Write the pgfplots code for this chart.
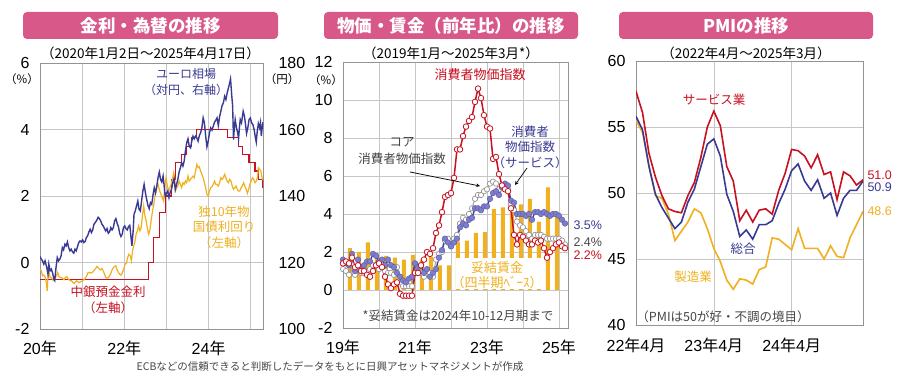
\documentclass[border=0pt]{standalone}
\usepackage{fontspec}
\setmainfont{Noto Sans CJK JP}
\newfontfamily\jp{Noto Sans CJK JP}
\newfontfamily\lib{Liberation Sans}
\usepackage{pgfplots}
\pgfplotsset{compat=1.18}
\definecolor{cred}{RGB}{200,16,32}
\definecolor{cblue}{RGB}{58,58,148}
\definecolor{cblueF}{RGB}{125,125,205}
\definecolor{corange}{RGB}{240,176,32}
\definecolor{cgray}{RGB}{150,150,150}
\definecolor{cdark}{RGB}{70,70,70}
\definecolor{cpink}{RGB}{216,88,138}
\pgfplotsset{
  panel/.style={scale only axis, grid=major,
    major grid style={gray!45, line width=0.6pt},
    axis line style={gray!85, line width=0.9pt},
    tick style={draw=none},
    ticklabel style={font=\lib\fontsize{16}{16}\selectfont, text=black},
    /pgf/number format/assume math mode=true},
}
\newcommand{\fs}[1]{\fontsize{#1}{#1}\selectfont}
\newcommand{\fss}[2]{\fontsize{#1}{#2}\selectfont}
\begin{document}
\begin{tikzpicture}
\path[use as bounding box] (0pt,0pt) rectangle (900pt,380pt);
\fill[white] (0pt,0pt) rectangle (900pt,380pt);

% ================= Panel 1 =================
\begin{axis}[panel, at={(40pt,51pt)}, width=223pt, height=266pt,
  xmin=2020, xmax=2025.29, ymin=-2, ymax=6,
  xtick={2020,2021,2022,2023,2024,2025},
  xticklabels={{20{\jp 年}},,{22{\jp 年}},,{24{\jp 年}},},
  ytick={-2,0,2,4,6},
  yticklabel style={xshift=-7pt},
  xticklabel style={yshift=-8pt}]
% ECB deposit rate
\addplot[const plot, cred, line width=1.2pt] coordinates {
(2020.00,-0.5) (2022.57,0) (2022.70,0.75) (2022.84,1.5) (2022.97,2.0)
(2023.11,2.5) (2023.22,3.0) (2023.36,3.25) (2023.47,3.5) (2023.59,3.75)
(2023.72,4.0) (2024.45,3.75) (2024.71,3.5) (2024.81,3.25) (2024.96,3.0)
(2025.10,2.75) (2025.19,2.5) (2025.29,2.25) };
% German 10y yield
\addplot[corange, line width=1.2pt] coordinates {
(2020.00,-0.20) (2020.03,-0.25) (2020.06,-0.40) (2020.09,-0.38) (2020.12,-0.43)
(2020.15,-0.60) (2020.17,-0.85) (2020.19,-0.40) (2020.21,-0.25) (2020.24,-0.45)
(2020.27,-0.45) (2020.30,-0.52) (2020.33,-0.55) (2020.36,-0.45) (2020.39,-0.40)
(2020.42,-0.30) (2020.45,-0.42) (2020.48,-0.45) (2020.51,-0.45) (2020.54,-0.48)
(2020.57,-0.52) (2020.60,-0.45) (2020.63,-0.42) (2020.66,-0.48) (2020.69,-0.52)
(2020.72,-0.55) (2020.75,-0.55) (2020.78,-0.60) (2020.81,-0.63) (2020.84,-0.58)
(2020.87,-0.55) (2020.90,-0.58) (2020.93,-0.60) (2020.96,-0.58) (2020.99,-0.57)
(2021.02,-0.53) (2021.05,-0.52) (2021.08,-0.45) (2021.11,-0.40) (2021.14,-0.30)
(2021.17,-0.30) (2021.20,-0.32) (2021.23,-0.30) (2021.26,-0.28) (2021.29,-0.22)
(2021.32,-0.18) (2021.35,-0.12) (2021.38,-0.15) (2021.41,-0.20) (2021.44,-0.22)
(2021.47,-0.18) (2021.50,-0.25) (2021.53,-0.35) (2021.56,-0.45) (2021.59,-0.47)
(2021.62,-0.45) (2021.65,-0.40) (2021.68,-0.33) (2021.71,-0.22) (2021.74,-0.15)
(2021.77,-0.12) (2021.80,-0.10) (2021.83,-0.22) (2021.86,-0.30) (2021.89,-0.35)
(2021.92,-0.38) (2021.95,-0.32) (2021.99,-0.18) (2022.02,-0.05) (2022.05,-0.02)
(2022.08,0.15) (2022.11,0.25) (2022.14,0.20) (2022.17,0.05) (2022.19,0.30)
(2022.22,0.50) (2022.25,0.60) (2022.28,0.85) (2022.31,0.95) (2022.34,1.10)
(2022.37,0.95) (2022.40,1.05) (2022.43,1.40) (2022.46,1.70) (2022.49,1.40)
(2022.52,1.25) (2022.55,1.00) (2022.58,0.85) (2022.61,1.00) (2022.64,1.30)
(2022.67,1.55) (2022.70,1.75) (2022.73,2.05) (2022.76,2.15) (2022.79,2.40)
(2022.81,2.30) (2022.84,2.15) (2022.87,2.05) (2022.90,1.95) (2022.93,1.85)
(2022.96,2.25) (2022.99,2.55) (2023.02,2.30) (2023.05,2.15) (2023.08,2.25)
(2023.11,2.35) (2023.14,2.50) (2023.17,2.70) (2023.19,2.60) (2023.21,2.15)
(2023.24,2.25) (2023.27,2.30) (2023.30,2.45) (2023.33,2.35) (2023.36,2.25)
(2023.39,2.40) (2023.42,2.35) (2023.45,2.45) (2023.48,2.40) (2023.51,2.60)
(2023.54,2.45) (2023.57,2.50) (2023.60,2.55) (2023.63,2.60) (2023.66,2.55)
(2023.69,2.75) (2023.72,2.95) (2023.75,2.85) (2023.78,2.88) (2023.81,2.75)
(2023.84,2.65) (2023.87,2.55) (2023.90,2.40) (2023.93,2.25) (2023.96,2.05)
(2023.99,2.00) (2024.02,2.15) (2024.05,2.25) (2024.08,2.28) (2024.11,2.35)
(2024.14,2.45) (2024.17,2.35) (2024.20,2.35) (2024.23,2.30) (2024.26,2.40)
(2024.29,2.55) (2024.32,2.50) (2024.35,2.55) (2024.38,2.65) (2024.41,2.55)
(2024.44,2.45) (2024.47,2.40) (2024.50,2.50) (2024.53,2.45) (2024.56,2.30)
(2024.59,2.20) (2024.62,2.25) (2024.65,2.30) (2024.68,2.20) (2024.71,2.15)
(2024.74,2.15) (2024.77,2.25) (2024.80,2.30) (2024.83,2.40) (2024.86,2.30)
(2024.89,2.20) (2024.92,2.08) (2024.95,2.20) (2024.98,2.35) (2025.01,2.45)
(2025.04,2.55) (2025.07,2.50) (2025.10,2.40) (2025.13,2.45) (2025.16,2.55)
(2025.18,2.85) (2025.21,2.80) (2025.24,2.75) (2025.26,2.60) (2025.28,2.50)
(2025.29,2.48) };
\end{axis}
\begin{axis}[scale only axis, at={(40pt,51pt)}, width=223pt, height=266pt,
  xmin=2020, xmax=2025.29, ymin=100, ymax=180,
  axis x line=none, axis y line*=right, axis line style={draw=none},
  tick style={draw=none},
  ytick={100,120,140,160,180},
  ticklabel style={font=\lib\fontsize{16}{16}\selectfont},
  /pgf/number format/assume math mode=true,
  yticklabel style={xshift=12pt}]
\addplot[cblue, line width=1.4pt] coordinates {
(2020.00,121.8) (2020.03,121.0) (2020.06,120.5) (2020.09,119.5) (2020.12,120.5)
(2020.16,118.5) (2020.19,116.5) (2020.21,119.5) (2020.24,117.5) (2020.27,118.0)
(2020.30,116.8) (2020.33,115.0) (2020.35,114.6) (2020.38,118.5) (2020.41,121.5)
(2020.44,120.5) (2020.47,121.0) (2020.50,122.0) (2020.53,124.5) (2020.56,123.8)
(2020.59,125.5) (2020.62,125.0) (2020.65,126.2) (2020.68,124.5) (2020.71,123.5)
(2020.74,124.0) (2020.77,123.2) (2020.80,122.8) (2020.83,124.0) (2020.86,123.5)
(2020.89,124.8) (2020.92,126.0) (2020.95,126.5) (2020.98,126.2) (2021.01,126.8)
(2021.04,126.0) (2021.07,126.3) (2021.10,127.5) (2021.13,128.0) (2021.16,129.2)
(2021.19,130.0) (2021.22,129.0) (2021.25,129.8) (2021.28,131.5) (2021.31,132.0)
(2021.35,132.8) (2021.38,133.6) (2021.41,133.2) (2021.44,132.5) (2021.47,131.5)
(2021.50,131.0) (2021.53,130.2) (2021.56,129.5) (2021.59,130.2) (2021.62,128.8)
(2021.65,129.2) (2021.68,130.5) (2021.71,129.8) (2021.74,130.5) (2021.77,132.5)
(2021.80,133.2) (2021.83,131.8) (2021.86,130.8) (2021.89,128.8) (2021.92,127.8)
(2021.95,128.5) (2021.98,130.5) (2022.01,131.0) (2022.04,130.2) (2022.07,129.8)
(2022.10,130.8) (2022.13,131.2) (2022.16,127.5) (2022.18,125.0) (2022.21,129.5)
(2022.23,134.5) (2022.26,135.5) (2022.29,137.0) (2022.32,138.5) (2022.35,136.0)
(2022.38,135.5) (2022.41,138.5) (2022.44,141.5) (2022.47,143.5) (2022.50,141.0)
(2022.53,139.0) (2022.56,137.2) (2022.59,136.2) (2022.62,138.0) (2022.65,137.5)
(2022.68,140.2) (2022.71,142.5) (2022.74,141.0) (2022.77,143.0) (2022.80,145.5)
(2022.83,147.2) (2022.86,145.0) (2022.89,144.2) (2022.92,146.0) (2022.95,142.5)
(2022.97,140.0) (2023.00,140.8) (2023.03,141.5) (2023.06,139.5) (2023.09,141.2)
(2023.12,142.0) (2023.15,144.0) (2023.18,145.2) (2023.21,142.0) (2023.24,143.5)
(2023.27,145.0) (2023.30,147.2) (2023.33,148.5) (2023.36,150.0) (2023.39,149.0)
(2023.42,150.5) (2023.45,153.5) (2023.48,156.0) (2023.51,157.2) (2023.54,155.0)
(2023.57,154.5) (2023.60,156.5) (2023.63,158.0) (2023.66,157.2) (2023.69,158.0)
(2023.72,157.5) (2023.75,156.5) (2023.78,158.2) (2023.81,159.0) (2023.84,160.5)
(2023.87,163.5) (2023.90,162.0) (2023.93,158.0) (2023.96,154.8) (2023.99,156.5)
(2024.02,159.0) (2024.05,160.5) (2024.08,159.8) (2024.11,161.0) (2024.14,162.2)
(2024.17,162.8) (2024.20,163.5) (2024.23,161.2) (2024.26,163.8) (2024.29,165.5)
(2024.32,167.2) (2024.35,168.0) (2024.38,170.0) (2024.41,169.0) (2024.44,171.0)
(2024.47,172.5) (2024.50,174.0) (2024.52,175.2) (2024.55,170.0) (2024.57,167.0)
(2024.59,157.0) (2024.61,160.5) (2024.63,163.0) (2024.66,160.5) (2024.69,159.0)
(2024.71,157.2) (2024.73,160.5) (2024.75,163.0) (2024.78,162.0) (2024.80,163.8)
(2024.82,165.5) (2024.85,164.0) (2024.88,161.0) (2024.90,158.8) (2024.93,160.5)
(2024.96,163.0) (2024.99,163.5) (2025.02,162.0) (2025.05,161.5) (2025.08,160.0)
(2025.11,157.5) (2025.13,156.2) (2025.15,159.0) (2025.18,161.8) (2025.21,160.5)
(2025.23,162.0) (2025.25,158.0) (2025.27,160.5) (2025.29,162.2) };
\end{axis}

% ================= Panel 2 =================
\begin{axis}[panel, at={(343pt,52pt)}, width=225pt, height=266pt,
  xmin=0, xmax=75, ymin=-2, ymax=12,
  xtick={0,12,24,36,48,60,72},
  xticklabels={{19{\jp 年}},,{21{\jp 年}},,{23{\jp 年}},,{25{\jp 年}}},
  ytick={-2,0,2,4,6,8,10,12},
  yticklabel style={xshift=-7pt},
  xticklabel style={yshift=-8pt}]
\addplot[ybar, bar width=4pt, fill=corange, draw=none] coordinates {
(2.3,2.2) (5.3,2.0) (8.3,2.5) (11.3,1.9) (14.3,1.8) (17.3,1.7) (20.3,1.6) (23.3,1.85)
(26.3,1.6) (29.3,1.75) (32.3,1.3) (35.3,1.3) (38.3,2.55) (41.3,2.6) (44.3,3.0) (47.3,3.05)
(50.3,4.25) (53.3,4.35) (56.3,4.7) (59.3,4.5) (62.3,4.8) (65.3,3.6) (68.3,5.4) (71.3,4.1) };
\addplot[cgray, line width=0.9pt, mark=*, mark size=2.7pt,
  mark options={fill=white, draw=cgray, line width=0.7pt}] coordinates {
(0,1.1) (1,1.0) (2,0.8) (3,1.3) (4,0.8) (5,1.1) (6,0.9) (7,0.9) (8,1.0) (9,1.1) (10,1.3) (11,1.3)
(12,1.1) (13,1.2) (14,1.0) (15,0.9) (16,0.9) (17,0.8) (18,1.2) (19,0.4) (20,0.2) (21,0.2) (22,0.2) (23,0.2)
(24,1.4) (25,1.1) (26,0.9) (27,0.7) (28,1.0) (29,0.9) (30,0.7) (31,1.6) (32,1.9) (33,2.0) (34,2.6) (35,2.7)
(36,2.3) (37,2.7) (38,2.9) (39,3.5) (40,3.8) (41,3.7) (42,4.0) (43,4.3) (44,4.8) (45,5.0) (46,5.0) (47,5.2)
(48,5.3) (49,5.6) (50,5.7) (51,5.6) (52,5.3) (53,5.5) (54,5.5) (55,5.3) (56,4.5) (57,4.2) (58,3.6) (59,3.4)
(60,3.3) (61,3.1) (62,2.9) (63,2.7) (64,2.9) (65,2.9) (66,2.9) (67,2.8) (68,2.7) (69,2.7) (70,2.7) (71,2.7)
(72,2.7) (73,2.6) (74,2.4) };
\addplot[cblue, line width=1.3pt, mark=*, mark size=2.8pt,
  mark options={fill=cblueF, draw=cblue!80, line width=0.5pt}] coordinates {
(0,1.6) (1,1.4) (2,1.3) (3,1.9) (4,1.0) (5,1.6) (6,1.2) (7,1.3) (8,1.5) (9,1.5) (10,1.9) (11,1.8)
(12,1.5) (13,1.6) (14,1.3) (15,1.6) (16,1.3) (17,1.2) (18,0.9) (19,0.7) (20,0.5) (21,0.4) (22,0.6) (23,0.7)
(24,1.4) (25,1.2) (26,1.3) (27,0.9) (28,1.1) (29,0.7) (30,0.9) (31,1.1) (32,1.7) (33,2.1) (34,2.7) (35,2.5)
(36,2.3) (37,2.5) (38,2.7) (39,3.3) (40,3.5) (41,3.4) (42,3.7) (43,3.8) (44,4.3) (45,4.3) (46,4.2) (47,4.4)
(48,4.4) (49,4.8) (50,5.1) (51,5.2) (52,5.0) (53,5.4) (54,5.6) (55,5.5) (56,4.7) (57,4.6) (58,4.0) (59,4.0)
(60,4.0) (61,3.9) (62,4.0) (63,3.7) (64,4.1) (65,4.1) (66,4.0) (67,4.1) (68,4.0) (69,3.9) (70,4.0) (71,4.0)
(72,3.9) (73,3.7) (74,3.5) };
\addplot[cred, line width=1.5pt, mark=*, mark size=2.8pt,
  mark options={fill=white, draw=cred, line width=0.8pt}] coordinates {
(0,1.4) (1,1.5) (2,1.4) (3,1.7) (4,1.2) (5,1.3) (6,1.0) (7,1.0) (8,0.8) (9,0.7) (10,1.0) (11,1.3)
(12,1.4) (13,1.2) (14,0.7) (15,0.3) (16,0.1) (17,0.3) (18,0.4) (19,-0.2) (20,-0.3) (21,-0.3) (22,-0.3) (23,-0.3)
(24,0.9) (25,0.9) (26,1.3) (27,1.6) (28,2.0) (29,1.9) (30,2.2) (31,3.0) (32,3.4) (33,4.1) (34,4.9) (35,5.0)
(36,5.1) (37,5.9) (38,7.4) (39,7.4) (40,8.1) (41,8.6) (42,8.9) (43,9.1) (44,9.9) (45,10.6) (46,10.1) (47,9.2)
(48,8.6) (49,8.5) (50,6.9) (51,7.0) (52,6.1) (53,5.5) (54,5.3) (55,5.2) (56,4.3) (57,2.9) (58,2.4) (59,2.9)
(60,2.8) (61,2.6) (62,2.4) (63,2.4) (64,2.6) (65,2.5) (66,2.6) (67,2.2) (68,1.7) (69,2.0) (70,2.2) (71,2.4)
(72,2.5) (73,2.3) (74,2.2) };
\end{axis}

% ================= Panel 3 =================
\begin{axis}[panel, at={(636pt,55pt)}, width=227pt, height=264pt,
  xmin=0, xmax=35, ymin=40, ymax=60,
  xtick={0,12,24},
  xticklabels={{22{\jp 年}4{\jp 月}},{23{\jp 年}4{\jp 月}},{24{\jp 年}4{\jp 月}}},
  ytick={40,45,50,55,60},
  yticklabel style={xshift=-7pt},
  xticklabel style={yshift=-9pt}]
\addplot[corange, line width=1.6pt] coordinates {
(0,55.5) (1,54.6) (2,52.1) (3,49.8) (4,49.6) (5,48.4) (6,46.4) (7,47.1) (8,47.8) (9,48.8) (10,48.5) (11,47.3)
(12,45.8) (13,44.8) (14,43.4) (15,42.7) (16,43.5) (17,43.4) (18,43.1) (19,44.2) (20,44.4) (21,46.6) (22,46.5) (23,46.1)
(24,45.7) (25,47.3) (26,45.8) (27,45.8) (28,45.8) (29,45.0) (30,46.0) (31,45.2) (32,45.1) (33,46.6) (34,47.6) (35,48.6) };
\addplot[cblue, line width=1.6pt] coordinates {
(0,55.8) (1,54.8) (2,52.0) (3,49.9) (4,48.9) (5,48.1) (6,47.3) (7,47.8) (8,49.3) (9,50.3) (10,52.0) (11,53.7)
(12,54.1) (13,52.8) (14,49.9) (15,48.6) (16,46.7) (17,47.2) (18,46.5) (19,47.6) (20,47.6) (21,47.9) (22,49.2) (23,50.3)
(24,51.7) (25,52.2) (26,50.9) (27,50.2) (28,51.0) (29,49.6) (30,50.0) (31,48.3) (32,49.6) (33,50.2) (34,50.2) (35,50.9) };
\addplot[cred, line width=1.6pt] coordinates {
(0,57.7) (1,56.1) (2,53.0) (3,51.2) (4,49.8) (5,48.8) (6,48.6) (7,48.5) (8,49.8) (9,50.8) (10,52.7) (11,55.0)
(12,56.2) (13,55.1) (14,52.0) (15,50.9) (16,47.9) (17,48.7) (18,47.8) (19,48.7) (20,48.8) (21,48.4) (22,50.2) (23,51.5)
(24,53.3) (25,53.2) (26,52.8) (27,51.9) (28,52.9) (29,51.4) (30,51.6) (31,49.5) (32,51.6) (33,51.3) (34,50.6) (35,51.0) };
\end{axis}

% ================= Titles & annotations =================
\fill[cpink, rounded corners=4pt] (23pt,341pt) rectangle (278pt,368pt);
\fill[cpink, rounded corners=4pt] (324pt,341pt) rectangle (578pt,368pt);
\fill[cpink, rounded corners=4pt] (619pt,341pt) rectangle (873pt,368pt);
\node[text=white, font=\bfseries\fs{17.5}] at (150.5pt,354.5pt) {金利・為替の推移};
\node[text=white, font=\bfseries\fs{17.5}] at (451pt,354.5pt) {物価・賃金（前年比）の推移};
\node[text=white, font=\bfseries\fs{17.5}] at (746pt,354.5pt) {PMIの推移};
\node[font=\fs{13.5}] at (150.5pt,327pt) {（2020年1月2日～2025年4月17日）};
\node[font=\fs{13.5}] at (451pt,327pt) {（2019年1月～2025年3月*）};
\node[font=\fs{13.5}] at (746pt,327pt) {（2022年4月～2025年3月）};

% panel 1 labels
\node[font=\fs{11.5}] at (22pt,301pt) {（\%）};
\node[font=\fs{11.5}] at (282pt,301pt) {（円）};
\node[text=cblue, font=\fss{12}{16}, align=center] at (186pt,298pt) {ユーロ相場\\（対円、右軸）};
\node[text=corange, font=\fss{12.5}{15.5}, align=center] at (224pt,153pt) {独10年物\\国債利回り\\（左軸）};
\node[text=cred, font=\fss{12.5}{16}, align=center] at (108pt,80pt) {中銀預金金利\\（左軸）};

% panel 2 labels
\node[font=\fs{11.5}] at (326pt,300pt) {（\%）};
\node[text=cred, font=\fs{13}] at (480pt,305pt) {消費者物価指数};
\node[text=cdark, font=\fss{12.5}{17}, align=center] at (402pt,229pt) {コア\\消費者物価指数};
\node[text=cblue, font=\fss{12.5}{15.5}, align=center] at (530pt,233pt) {消費者\\物価指数\\（サービス）};
\draw[-stealth, line width=0.7pt] (410pt,208pt) -- (480pt,194pt);
\draw[-stealth, line width=0.7pt] (527pt,212pt) -- (515pt,195pt);
\fill[white] (456pt,91pt) rectangle (542pt,122pt);
\node[text=corange, font=\fss{13}{14.5}, align=center] at (497pt,105pt) {妥結賃金\\（四半期ﾍﾞｰｽ）};
\node[text=cdark, font=\fs{12.5}] at (458pt,64pt) {*妥結賃金は2024年10-12月期まで};
\node[text=cblue, font=\lib\fs{12.5}, anchor=west] at (570pt,155pt) {3.5\%};
\node[text=cdark, font=\lib\fs{12.5}, anchor=west] at (570pt,138pt) {2.4\%};
\node[text=cred, font=\lib\fs{12.5}, anchor=west] at (570pt,125pt) {2.2\%};

% panel 3 labels
\node[text=cred, font=\fs{12.5}] at (714pt,280pt) {サービス業};
\node[text=cblue, font=\fs{12.5}] at (743pt,131pt) {総合};
\node[text=corange, font=\fs{12.5}] at (693pt,103pt) {製造業};
\node[text=cdark, font=\fs{12.5}] at (723pt,63pt) {（PMIは50が好・不調の境目）};
\node[text=cred, font=\lib\fs{12.5}, anchor=west] at (864pt,205pt) {51.0};
\node[text=cblue, font=\lib\fs{12.5}, anchor=west] at (864pt,193pt) {50.9};
\node[text=corange, font=\lib\fs{12.5}, anchor=west] at (864pt,169pt) {48.6};

% footnote
\node[text=cdark, font=\fs{10.5}] at (330pt,14pt) {ECBなどの信頼できると判断したデータをもとに日興アセットマネジメントが作成};
\end{tikzpicture}
\end{document}
